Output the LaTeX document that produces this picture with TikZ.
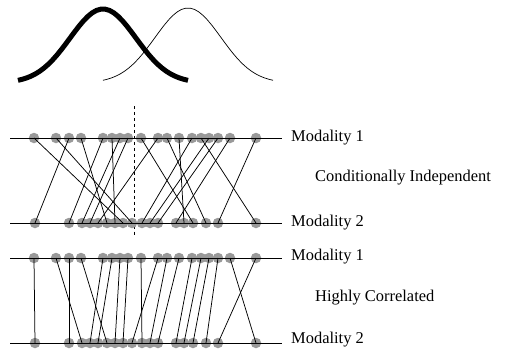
\documentclass[tikz,border=0pt]{standalone}
\usepackage{fontspec}
\setmainfont{Liberation Serif}
\begin{document}
\begin{tikzpicture}[x=1bp,y=-1bp,
  dotstyle/.style={circle,fill=black!40,inner sep=0pt,minimum size=10.5bp},
  axisline/.style={line width=0.8bp},
  link/.style={line width=0.75bp},
  lbl/.style={anchor=west,inner sep=0pt,font=\fontsize{16.5}{18}\selectfont}]
\useasboundingbox (0,0) rectangle (515,354);
% gaussians
\draw[line width=5bp] plot[domain=18:188,samples=40] (\x,{83-74*exp(-((\x-103)/33)^2/2)});
\draw[line width=0.7bp] plot[domain=103:273,samples=40] (\x,{83-75*exp(-((\x-188)/33)^2/2)});
% dashed
\coordinate (dA) at (134,106);
\coordinate (dB) at (134,235);
\draw[dashed,line width=0.7bp] (dA) -- (dB);
% axis lines
\foreach \n/\y in {a/138,b/223,c/258,d/343}{
  \coordinate (\n L) at (10,\y);
  \coordinate (\n R) at (282,\y);
}
\def\tops{34,56,69,81,103,112,120,128,141,158,167,179,192,201,209,218,230,256}
\def\bots{35,69,82,90,98,107,115,123,132,142,150,158,176,184,193,206,218,256}
\foreach \x [count=\i] in \tops {
  \node[dotstyle] (a\i) at (\x,138) {};
  \node[dotstyle] (c\i) at (\x,258) {};
}
\foreach \x [count=\i] in \bots {
  \node[dotstyle] (b\i) at (\x,223) {};
  \node[dotstyle] (d\i) at (\x,343) {};
}
\foreach \n in {a,b,c,d} \draw[axisline] (\n L) -- (\n R);
% top panel links
\foreach \t/\b in {3/1,1/8,2/9,4/6,5/2,6/7,7/3,8/4,10/5,9/15,11/16,12/14,13/10,14/18,15/11,16/12,17/13,18/17}
  \draw[link] (a\t.center) -- (b\b.center);
% bottom panel links
\foreach \t/\b in {1/1,2/3,3/2,4/6,5/4,6/5,7/7,8/8,9/10,10/9,11/11,12/12,13/13,14/14,15/15,16/16,17/18,18/17}
  \draw[link] (c\t.center) -- (d\b.center);
% labels
\node[lbl] (m1) at (291,138) {Modality 1};
\node[lbl] (ci) at (315,178) {Conditionally Independent};
\node[lbl] (m2) at (291,223) {Modality 2};
\node[lbl] (m3) at (291,257) {Modality 1};
\node[lbl] (hc) at (315,298) {Highly Correlated};
\node[lbl] (m4) at (291,340) {Modality 2};
\end{tikzpicture}
\end{document}
